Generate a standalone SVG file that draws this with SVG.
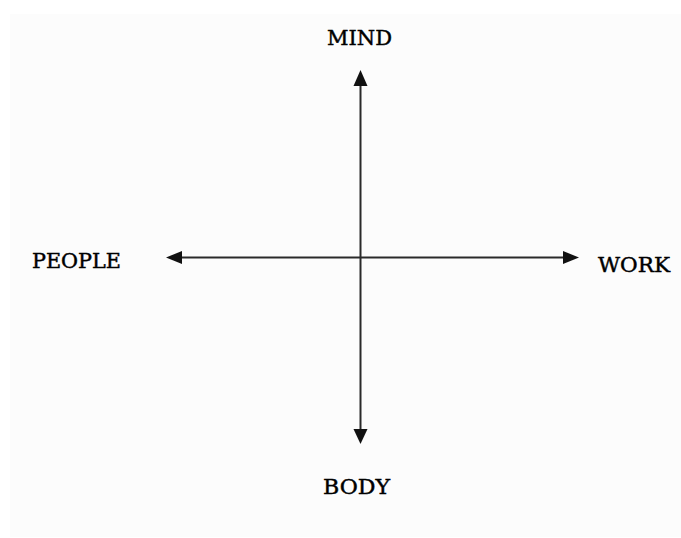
<svg xmlns="http://www.w3.org/2000/svg" width="681" height="538" viewBox="0 0 681 538">
<defs>
<style>
.lbl{font-family:"DejaVu Serif","Liberation Serif",serif;font-size:21px;fill:#000;stroke:#000;stroke-width:0.45;}
.ax{stroke:#2a2a2a;stroke-width:2;fill:none;}
.hd{fill:#111;}
</style>
</defs>
<rect x="0" y="0" width="681" height="538" fill="#ffffff"/>
<rect x="10" y="14" width="671" height="523" fill="#fcfcfc"/>
<g id="connectors">
<line class="ax" x1="360.5" y1="82" x2="360.5" y2="432"/>
<line class="ax" x1="178" y1="257.5" x2="568" y2="257.5"/>
<polygon class="hd" points="360.5,70 353.5,86 367.5,86"/>
<polygon class="hd" points="360.5,444 353.5,429 367.5,429"/>
<polygon class="hd" points="166,257.5 182,251 182,264"/>
<polygon class="hd" points="579,257.5 563,251 563,264"/>
</g>
<g id="mind"><text class="lbl" x="327" y="45" textLength="65" lengthAdjust="spacingAndGlyphs">MIND</text></g>
<g id="people"><text class="lbl" x="32" y="268" textLength="89" lengthAdjust="spacingAndGlyphs">PEOPLE</text></g>
<g id="work"><text class="lbl" x="598" y="272" textLength="72" lengthAdjust="spacingAndGlyphs">WORK</text></g>
<g id="body"><text class="lbl" x="323" y="494" textLength="67" lengthAdjust="spacingAndGlyphs">BODY</text></g>
</svg>
